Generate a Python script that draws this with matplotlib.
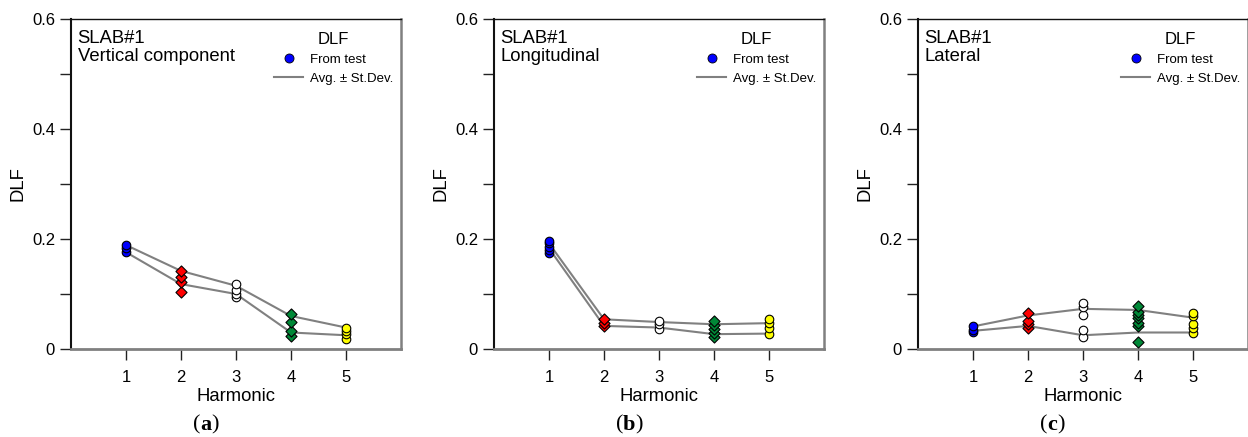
import matplotlib
matplotlib.use("Agg")
import matplotlib.pyplot as plt
from matplotlib.lines import Line2D

plt.rcParams['font.family'] = ['Liberation Sans', 'DejaVu Sans']

harmonics = [1, 2, 3, 4, 5]
panel_titles = ["SLAB#1\nVertical component", "SLAB#1\nLongitudinal", "SLAB#1\nLateral"]
panel_letters = ["a", "b", "c"]

# test values per harmonic (one list per harmonic), per panel
vert_pts = [[0.177, 0.183, 0.190],
            [0.103, 0.122, 0.131, 0.142],
            [0.094, 0.100, 0.108, 0.118],
            [0.024, 0.032, 0.050, 0.064],
            [0.018, 0.027, 0.033, 0.038]]
long_pts = [[0.174, 0.180, 0.186, 0.193, 0.197],
            [0.041, 0.047, 0.054],
            [0.036, 0.045, 0.051],
            [0.021, 0.029, 0.036, 0.044, 0.051],
            [0.027, 0.038, 0.047, 0.055]]
lat_pts = [[0.031, 0.035, 0.041],
           [0.038, 0.045, 0.051, 0.066],
           [0.022, 0.035, 0.062, 0.076, 0.083],
           [0.012, 0.041, 0.047, 0.056, 0.062, 0.068, 0.079],
           [0.029, 0.038, 0.045, 0.060, 0.066]]

# average and standard deviation per harmonic
vert_avg = [0.1825, 0.130, 0.1075, 0.045, 0.032]
vert_sd = [0.0065, 0.012, 0.0075, 0.015, 0.007]
long_avg = [0.1875, 0.048, 0.044, 0.036, 0.0375]
long_sd = [0.0045, 0.006, 0.005, 0.009, 0.0095]
lat_avg = [0.037, 0.0515, 0.049, 0.0505, 0.0435]
lat_sd = [0.004, 0.0095, 0.024, 0.0205, 0.0135]

face_colors = ['#0000ff', '#ff0000', '#ffffff', '#008837', '#ffff00']
marker_shapes = ['o', 'D', 'o', 'D', 'o']

panels = [(vert_pts, vert_avg, vert_sd),
          (long_pts, long_avg, long_sd),
          (lat_pts, lat_avg, lat_sd)]

W, H = 1248, 437
fig = plt.figure(figsize=(W / 100, H / 100), dpi=100)
renderer = fig.canvas.get_renderer()
lefts = [71, 494, 918]

for i, (pts, avg, sd) in enumerate(panels):
    ax = fig.add_axes([lefts[i] / W, 88 / H, 330 / W, 330 / H])
    upper = [a + s for a, s in zip(avg, sd)]
    lower = [a - s for a, s in zip(avg, sd)]
    ax.plot(harmonics, upper, color='#808080', lw=1.5, zorder=2)
    ax.plot(harmonics, lower, color='#808080', lw=1.5, zorder=2)
    for h, vals, fc, mk in zip(harmonics, pts, face_colors, marker_shapes):
        ax.scatter([h] * len(vals), vals, s=38 if mk == 'o' else 32, marker=mk,
                   facecolor=fc, edgecolor='black', linewidths=0.8, zorder=3)

    ax.set_xlim(0, 6)
    ax.set_ylim(0, 0.6)
    ax.set_xticks(harmonics)
    ax.set_yticks([0, 0.2, 0.4, 0.6])
    ax.set_yticklabels(['0', '0.2', '0.4', '0.6'])
    ax.set_yticks([0.1, 0.3, 0.5], minor=True)
    ax.tick_params(axis='both', which='both', direction='out', length=8,
                   width=1, labelsize=12, color='#222222')
    ax.tick_params(axis='x', pad=7)
    ax.spines['left'].set_color('#111111')
    ax.spines['left'].set_linewidth(1.5)
    ax.spines['top'].set_color('#111111')
    ax.spines['top'].set_linewidth(1.0)
    ax.spines['bottom'].set_color('#808080')
    ax.spines['bottom'].set_linewidth(2)
    ax.spines['right'].set_color('#808080')
    ax.spines['right'].set_linewidth(1.8)

    ax.set_xlabel('Harmonic', fontsize=13.3, labelpad=2)
    ax.set_ylabel('DLF', fontsize=13.3, labelpad=4)
    ax.text(0.02, 0.968, panel_titles[i], transform=ax.transAxes, fontsize=13.3,
            va='top', ha='left', linespacing=1.12)

    handles = [Line2D([], [], marker='o', linestyle='none', markerfacecolor='#0000ff',
                      markeredgecolor='black', markersize=6.5, markeredgewidth=0.6),
               Line2D([], [], color='#808080', lw=1.5)]
    ax.legend(handles, ['From test', 'Avg. ± St.Dev.'], title='DLF',
              loc='upper right', bbox_to_anchor=(1.0, 0.985), frameon=False,
              fontsize=9.5, title_fontsize=12, handlelength=2.2,
              handletextpad=0.5, labelspacing=0.5, borderaxespad=0.2)

    # panel letter "(a)" with the letter in bold
    cx = (lefts[i] + 129) / W
    cy = 12 / H
    fig.text(cx, cy, '(', fontsize=16, family='Liberation Serif', ha='right', va='center')
    letter = fig.text(cx, cy, panel_letters[i], fontsize=16, family='Liberation Serif',
                      fontweight='bold', ha='left', va='center')
    lw_px = letter.get_window_extent(renderer).width
    fig.text(cx + lw_px / W, cy, ')', fontsize=16, family='Liberation Serif',
             ha='left', va='center')

fig.savefig('out.png', dpi=100)
